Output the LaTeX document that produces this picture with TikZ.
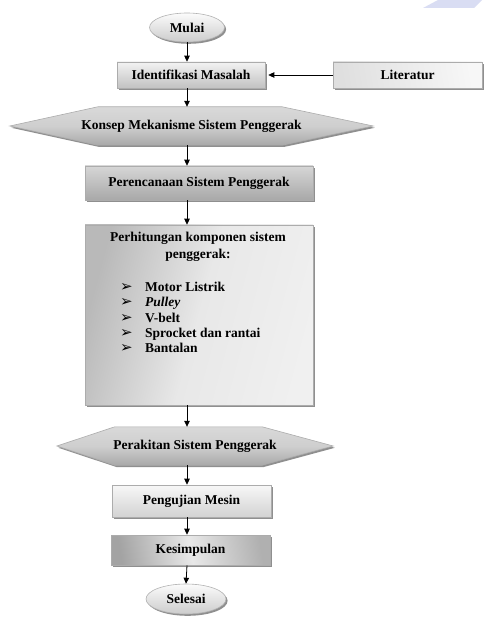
\documentclass[tikz,border=0pt]{standalone}
\usepackage{fontspec}
\setmainfont{Liberation Serif}
\newfontfamily\symfont{DejaVu Sans}
\usetikzlibrary{arrows.meta,shadows,backgrounds,shapes.geometric}
\definecolor{wasser}{RGB}{208,212,240}
\newcommand{\spitze}{\makebox[25pt][l]{\symfont\fontsize{15}{15}\selectfont ➢}}

\begin{document}
\begin{tikzpicture}[x=1pt, y=-1pt,
	schrift/.style={font=\fontsize{13.5}{15.3}\selectfont\bfseries},
	schatten/.style={drop shadow={shadow xshift=1.6pt, shadow yshift=-1.8pt, fill=black!55, opacity=.8}},
	kasten/.style={schrift, rectangle, draw=gray!65, line width=0.6pt, inner sep=0pt, schatten},
	oval/.style={schrift, ellipse, draw=gray!60, line width=0.6pt, inner sep=0pt,
		top color=gray!3, bottom color=gray!40, schatten},
	sechseck/.style={draw=gray!65, line width=0.6pt, top color=gray!30, bottom color=gray!68,
		middle color=gray!38, schatten},
	pfeil/.style={-{Triangle[length=6pt,width=5.5pt]}, line width=0.8pt}]
	\useasboundingbox (0,0) rectangle (485,617);
	% Wasserzeichen oben rechts
	\fill[wasser, opacity=.8] (438,0) -- (482,0) -- (474,8) -- (423,8) -- cycle;

	% Start und Eingangsbloecke
	\node[oval, minimum width=75pt, minimum height=29pt] (mulai) at (187,27.5) {Mulai};
	\node[kasten, minimum width=148pt, minimum height=26pt, top color=gray!10,
	bottom color=gray!48] (ident) at (191,75) {Identifikasi Masalah};
	\node[kasten, minimum width=149pt, minimum height=26pt, left color=gray!25,
	right color=gray!6, shading angle=100] (literatur) at (407.5,75) {Literatur};

	% Konsept
	\node[schrift, minimum width=363pt, minimum height=38pt, inner sep=0pt] (konsep) at
	(191.5,126) {Konsep Mekanisme Sistem Penggerak};
	\node[kasten, minimum width=228pt, minimum height=34pt, top color=gray!32,
	bottom color=gray!68] (plan) at (199,183) {Perencanaan Sistem Penggerak};

	% Perhitungen
	\node[kasten, minimum width=228pt, minimum height=180pt, left color=gray!55,
	right color=gray!12, middle color=gray!18, shading angle=75] (hitung) at (199,315) {};
	\node[schrift, align=center, inner sep=0pt] (hitungkopf) at (198,246.5)
	{Perhitungan komponen sistem\\[1.7pt]penggerak:};
	\node[schrift, anchor=base west, inner sep=0pt] (hitungliste) at (120,291.5)
	{\begin{tabular}[t]{@{}l@{}}
		\spitze Motor Listrik\\
		\spitze\textit{Pulley}\\
		\spitze V-belt\\
		\spitze Sprocket dan rantai\\
		\spitze Bantalan
	\end{tabular}};

	% Montage und Abschluss
	\node[schrift, minimum width=276pt, minimum height=38pt, inner sep=0pt] (rakit) at
	(195,446) {Perakitan Sistem Penggerak};
	\node[kasten, minimum width=159pt, minimum height=32pt, top color=gray!6,
	bottom color=gray!35] (uji) at (191.5,501) {Pengujian Mesin};
	\node[kasten, minimum width=159pt, minimum height=30pt, left color=gray!72,
	right color=gray!62, middle color=gray!18, shading angle=100] (simpul) at (190.5,550)
	{Kesimpulan};
	\node[oval, minimum width=80pt, minimum height=30pt] (selesai) at (186,599) {Selesai};

	% Sechsecke im Hintergrund
	\begin{scope}[on background layer]
		\path[sechseck] (konsep.west) -- ([xshift=88pt]konsep.north west) --
		([xshift=-91pt]konsep.north east) -- (konsep.east) --
		([xshift=-91pt]konsep.south east) -- ([xshift=88pt]konsep.south west) -- cycle;
		\path[sechseck] (rakit.west) -- ([xshift=58pt]rakit.north west) --
		([xshift=-71pt]rakit.north east) -- (rakit.east) --
		([xshift=-71pt]rakit.south east) -- ([xshift=58pt]rakit.south west) -- cycle;
	\end{scope}

	% Pfeile
	\draw[pfeil] (mulai.south) -- (ident.north -| mulai.south);
	\draw[pfeil] (literatur.west) -- ([xshift=3pt]ident.east);
	\draw[pfeil] (ident.south -| mulai) -- (konsep.north -| mulai);
	\draw[pfeil] (konsep.south -| mulai) -- (plan.north -| mulai);
	\draw[pfeil] (plan.south -| mulai) -- (hitung.north -| mulai);
	\draw[pfeil] (hitung.south -| mulai) -- (rakit.north -| mulai);
	\draw[pfeil] (rakit.south -| mulai) -- (uji.north -| mulai);
	\draw[pfeil] (uji.south -| mulai) -- (simpul.north -| mulai);
	\draw[pfeil] (simpul.south -| mulai) -- (selesai.north);
\end{tikzpicture}
\end{document}
